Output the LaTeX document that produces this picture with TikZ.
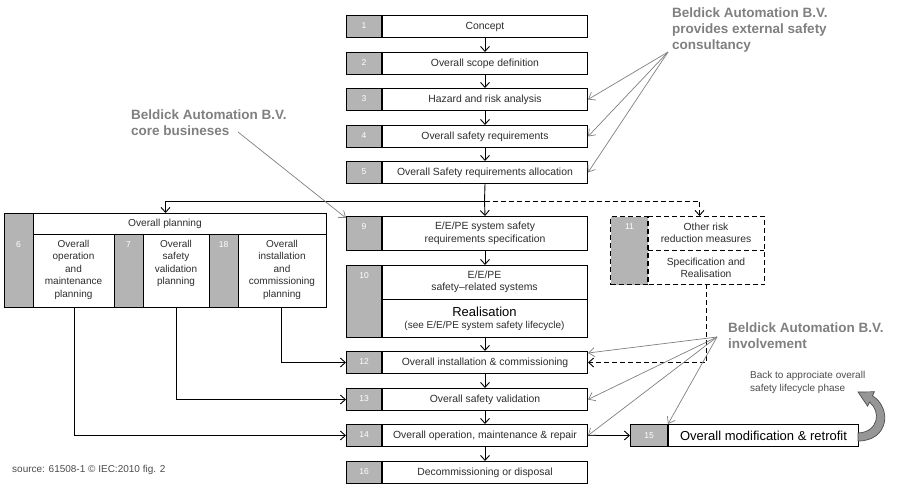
\documentclass[tikz,border=0pt]{standalone}
\usepackage{fontspec}
\setmainfont{Liberation Sans}
\usetikzlibrary{arrows.meta}
\definecolor{numgrey}{RGB}{180,180,180}
\definecolor{anngrey}{RGB}{128,128,128}
\definecolor{txt}{RGB}{45,45,45}
\definecolor{curvegrey}{RGB}{150,150,150}
\newcommand\mainbox[5]{%
  \node[box, minimum width=205pt, minimum height=#4pt, anchor=north west] (#1) at (382,#3) {#5};
  \node[numcell, minimum width=35pt, minimum height=#4pt, anchor=north east] (#1n) at (#1.north west) {};
  \node[numtxt] (#1num) at ([yshift=-11pt]#1n.north) {#2};
}
\begin{document}
\begin{tikzpicture}[x=1pt,y=-1pt,
  box/.style={draw=black, line width=1pt, fill=white, inner sep=0pt, align=center, font=\fontsize{10.4}{12.7}\selectfont, text=txt},
  numcell/.style={draw=black, line width=1pt, fill=numgrey, inner sep=0pt},
  numtxt/.style={text=white, font=\fontsize{8.5}{9}\selectfont, inner sep=0pt},
  plaintxt/.style={inner sep=0pt, align=center, text=txt},
  flow/.style={-{Straight Barb[length=5pt,width=9pt]}, line width=0.9pt, black},
  dashline/.style={dash pattern=on 5pt off 3pt},
  ann/.style={-{Straight Barb[length=6pt,width=9pt]}, line width=0.7pt, anngrey},
  anntxt/.style={text=anngrey, font=\bfseries\fontsize{13.5}{16}\selectfont, align=left, inner sep=0pt, anchor=north west},
]
\useasboundingbox (0,0) rectangle (900,500);
\fill[white] (0,0) rectangle (900,500);

% main column
\mainbox{b1}{1}{15}{22}{Concept}
\mainbox{b2}{2}{52}{22}{Overall scope definition}
\mainbox{b3}{3}{88}{22}{Hazard and risk analysis}
\mainbox{b4}{4}{125}{22}{Overall safety requirements}
\mainbox{b5}{5}{161}{22}{Overall Safety requirements allocation}
\mainbox{b9}{9}{216}{34}{E/E/PE system safety\\requirements specification}
\mainbox{b10}{10}{265}{72}{}
\draw[line width=1pt] (382,299) -- (587,299);
\node[plaintxt, font=\fontsize{10.4}{12.5}\selectfont] (b10up) at (484.5,282) {E/E/PE\\safety–related systems};
\node[plaintxt, font=\fontsize{13}{14}\selectfont, text=black] (b10real) at (484.5,312) {Realisation};
\node[plaintxt, font=\fontsize{10}{11}\selectfont] (b10see) at (484.5,326) {(see E/E/PE system safety lifecycle)};
\mainbox{b12}{12}{351}{22}{Overall installation \& commissioning}
\mainbox{b13}{13}{388}{22}{Overall safety validation}
\mainbox{b14}{14}{424}{22}{Overall operation, maintenance \& repair}
\mainbox{b16}{16}{461}{22}{Decommissioning or disposal}

% box 15
\node[box, minimum width=190pt, minimum height=22pt, anchor=north west, font=\fontsize{13}{14}\selectfont, text=black] (b15) at (668,424) {Overall modification \& retrofit};
\node[numcell, minimum width=37pt, minimum height=22pt, anchor=north east] (b15n) at (b15.north west) {};
\node[numtxt] (b15num) at (b15n.center) {15};

% overall planning
\node[draw=black, line width=1pt, fill=white, minimum width=322pt, minimum height=94pt, anchor=north west, inner sep=0pt] (plan) at (4,213) {};
\fill[numgrey] (4,213) rectangle (33,307);
\fill[numgrey] (114,234) rectangle (143,307);
\fill[numgrey] (209,234) rectangle (238,307);
\draw[line width=1pt] (4,213) rectangle (326,307);
\draw[line width=1pt] (33,234) -- (326,234);
\draw[line width=1pt] (33,213) -- (33,307);
\foreach \xx in {114,143,209,238} \draw[line width=1pt] (\xx,234) -- (\xx,307);
\node[plaintxt, font=\fontsize{10.2}{12.5}\selectfont] (planhdr) at (165,223.5) {Overall planning};
\node[plaintxt, font=\fontsize{10}{12.5}\selectfont, anchor=north] (c6) at (73.5,240) {Overall\\operation\\and\\maintenance\\planning};
\node[plaintxt, font=\fontsize{10}{12.5}\selectfont, anchor=north] (c7) at (176,240) {Overall\\safety\\validation\\planning};
\node[plaintxt, font=\fontsize{10}{12.5}\selectfont, anchor=north] (c18) at (282,240) {Overall\\installation\\and\\commissioning\\planning};
\node[numtxt] (n6) at (18.5,245) {6};
\node[numtxt] (n7) at (128.5,245) {7};
\node[numtxt] (n18) at (223.5,245) {18};

% box 11 (dashed)
\node[draw=black, line width=1pt, dashline, minimum width=116pt, minimum height=68pt, anchor=north west, inner sep=0pt] (b11t) at (648,216) {};
\node[numcell, dashline, minimum width=37pt, minimum height=68pt, anchor=north east] (b11n) at (b11t.north west) {};
\draw[line width=1pt, dashline] (648,250) -- (764,250);
\node[numtxt] (b11num) at (629.5,227) {11};
\node[plaintxt, font=\fontsize{10.3}{12}\selectfont] (b11a) at (706,233) {Other risk\\reduction measures};
\node[plaintxt, font=\fontsize{10.3}{12}\selectfont] (b11b) at (706,268) {Specification and\\Realisation};

% flow connectors
\draw[flow] (b1.south) -- (b2.north);
\draw[flow] (b2.south) -- (b3.north);
\draw[flow] (b3.south) -- (b4.north);
\draw[flow] (b4.south) -- (b5.north);
\coordinate (split) at (484.5,201);
\draw[line width=0.9pt] (b5.south) -- (split);
\draw[flow] (split) -- (b9.north);
\draw[flow] (split) -| (plan.north);
\draw[flow, dashline] (split) -| ([xshift=-7pt]b11t.north);
\draw[flow] (b9.south) -- (b10.north);
\draw[flow] (b10.south) -- (b12.north);
\draw[flow] (b12.south) -- (b13.north);
\draw[flow] (b13.south) -- (b14.north);
\draw[flow] (b14.south) -- (b16.north);
\coordinate (p6) at (74,307);
\coordinate (p7) at (176,307);
\coordinate (p18) at (281,307);
\draw[flow] (p6) |- (b14n.west);
\draw[flow] (p7) |- (b13n.west);
\draw[flow] (p18) |- (b12n.west);
\draw[flow] (b14.east) -- (b15n.west);
\draw[flow, dashline] (706,284) |- (b12.east);

% annotations
\node[anntxt] (annA) at (672,8) {Beldick Automation B.V.\\provides external safety\\consultancy};
\coordinate (annAo) at (668,52);
\draw[ann] (annAo) -- (b3.east);
\draw[ann] (annAo) -- (b4.east);
\draw[ann] (annAo) -- (b5.east);

\node[anntxt] (annB) at (131,110) {Beldick Automation B.V.\\core busineses};
\coordinate (annBo) at (238,132);
\draw[ann] (annBo) -- ([yshift=-2pt]b9n.north west);

\node[anntxt] (annC) at (728,323) {Beldick Automation B.V.\\involvement};
\coordinate (annCo) at (717,337);
\draw[ann] (annCo) -- ([yshift=-2pt]b12.north east);
\draw[ann] (annCo) -- (b13.east);
\draw[ann] (annCo) -- (b14.east);
\draw[ann] (annCo) -- (b15n.north east);

% back arrow
\node[inner sep=0pt, anchor=north west, align=left, text=black!70, font=\fontsize{10}{13}\selectfont] (backtxt) at (750,371) {Back to approciate overall\\safety lifecycle phase};
\filldraw[fill=curvegrey, draw=black!70, line width=0.7pt]
  (858,433) .. controls (879,432) and (881,411) .. (869.5,402.2)
  -- (867.6,406.2) -- (858,392) -- (874.4,391.8) -- (872.5,395.8)
  .. controls (892,408) and (889,441) .. (858,441) -- cycle;

% source
\node[inner sep=0pt, anchor=west, text=black!70, font=\fontsize{10}{12}\selectfont] (src) at (12,470) {source: 61508-1 © IEC:2010 fig. 2};
\end{tikzpicture}
\end{document}
